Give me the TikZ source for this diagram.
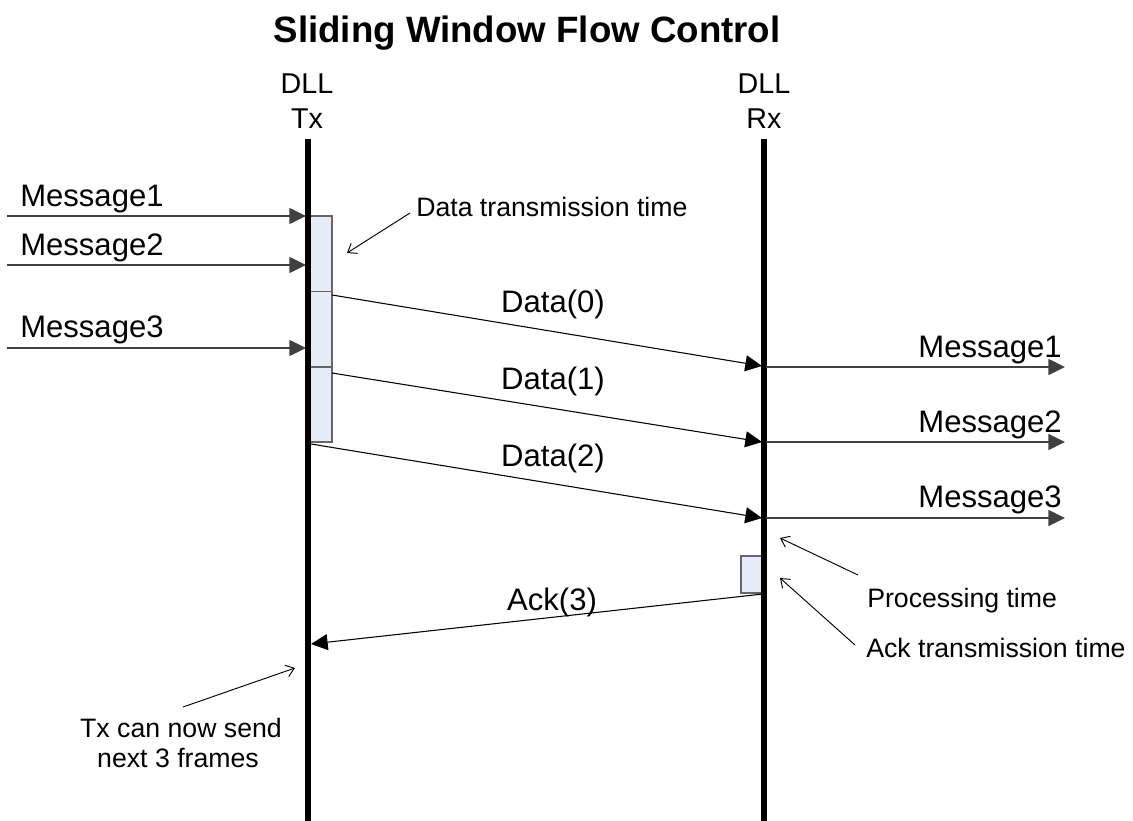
\documentclass[tikz,border=0pt]{standalone}
\usepackage{fontspec}
\setmainfont{Liberation Sans}
\usetikzlibrary{arrows.meta}
\definecolor{boxfill}{HTML}{E6ECF7}
\begin{document}
\begin{tikzpicture}[x=0.75pt,y=-0.75pt,
  ttl/.style={font=\fontsize{27.5}{32}\selectfont\bfseries, inner sep=0pt},
  hdr/.style={font=\fontsize{21.5}{26}\selectfont, inner sep=0pt},
  lbl/.style={font=\fontsize{23.3}{27}\selectfont, inner sep=0pt},
  ann/.style={font=\fontsize{20}{23}\selectfont, inner sep=0pt, align=center},
  life/.style={line width=4.2pt},
  msg/.style={draw=black!75, line width=1.1pt, -{Triangle[length=12.5pt,width=12pt]}},
  dat/.style={draw=black, line width=0.8pt, -{Triangle[length=12.5pt,width=12pt]}},
  note/.style={draw=black, line width=0.7pt, -{Straight Barb[length=6pt,width=9pt]}},
  procbox/.style={draw=black!60, fill=boxfill, line width=0.8pt}
]
\useasboundingbox (0,0) rectangle (1133,821);

% title
\node[ttl, anchor=base] (title) at (527,42) {Sliding Window Flow Control};

% headers
\node[hdr, anchor=base] (txh1) at (307,93) {DLL};
\node[hdr, anchor=base] (txh2) at (307,128) {Tx};
\node[hdr, anchor=base] (rxh1) at (764,93) {DLL};
\node[hdr, anchor=base] (rxh2) at (764,128) {Rx};

% lifelines
\coordinate (txtop) at (308,139);
\coordinate (txbot) at (308,821);
\coordinate (rxtop) at (764,139);
\coordinate (rxbot) at (764,821);

% boxes on Tx
\draw[procbox] (310,216) rectangle (332,291.5);
\draw[procbox] (310,291.5) rectangle (332,367);
\draw[procbox] (310,367) rectangle (332,442);
% box on Rx
\draw[procbox] (741,556) rectangle (763,593);

\draw[life] (txtop) -- (txbot);
\draw[life] (rxtop) -- (rxbot);

% incoming messages
\coordinate (m1s) at (7,216);  \coordinate (m1e) at (306,216);
\coordinate (m2s) at (7,265);  \coordinate (m2e) at (306,265);
\coordinate (m3s) at (7,348);  \coordinate (m3e) at (306,348);
\draw[msg] (m1s) -- (m1e);
\draw[msg] (m2s) -- (m2e);
\draw[msg] (m3s) -- (m3e);
\node[lbl, anchor=base west] (lm1) at (20,206) {Message1};
\node[lbl, anchor=base west] (lm2) at (20,255) {Message2};
\node[lbl, anchor=base west] (lm3) at (20,337) {Message3};

% data frames
\coordinate (d0s) at (332,295);  \coordinate (d0e) at (762,366);
\coordinate (d1s) at (332,373);  \coordinate (d1e) at (762,442);
\coordinate (d2s) at (311,444);  \coordinate (d2e) at (762,518);
\draw[dat] (d0s) -- (d0e);
\draw[dat] (d1s) -- (d1e);
\draw[dat] (d2s) -- (d2e);
\node[lbl, anchor=base] (ld0) at (553,312) {Data(0)};
\node[lbl, anchor=base] (ld1) at (553,389) {Data(1)};
\node[lbl, anchor=base] (ld2) at (553,466) {Data(2)};

% outgoing messages
\coordinate (o1s) at (766,367);  \coordinate (o1e) at (1065,367);
\coordinate (o2s) at (766,442);  \coordinate (o2e) at (1065,442);
\coordinate (o3s) at (766,518);  \coordinate (o3e) at (1065,518);
\draw[msg] (o1s) -- (o1e);
\draw[msg] (o2s) -- (o2e);
\draw[msg] (o3s) -- (o3e);
\node[lbl, anchor=base east] (lo1) at (1062,357) {Message1};
\node[lbl, anchor=base east] (lo2) at (1062,432) {Message2};
\node[lbl, anchor=base east] (lo3) at (1062,507) {Message3};

% ack
\coordinate (acks) at (763,594);  \coordinate (acke) at (311,644);
\draw[dat] (acks) -- (acke);
\node[lbl, anchor=base] (lack) at (552,610) {Ack(3)};

% annotations
\node[ann, anchor=base west] (adt) at (416,216) {Data transmission time};
\coordinate (adts) at (410,213); \coordinate (adte) at (347,253);
\draw[note] (adts) -- (adte);

\node[ann, anchor=base west] (apt) at (867,607) {Processing time};
\coordinate (apts) at (858,575); \coordinate (apte) at (780,538);
\draw[note] (apts) -- (apte);

\node[ann, anchor=base west] (aat) at (866,657) {Ack transmission time};
\coordinate (aats) at (855,645); \coordinate (aate) at (780,578);
\draw[note] (aats) -- (aate);

\node[ann, anchor=base] (atx1) at (181,737) {Tx can now send};
\node[ann, anchor=base] (atx2) at (178,767) {next 3 frames};
\coordinate (atxs) at (183,707); \coordinate (atxe) at (295,668);
\draw[note] (atxs) -- (atxe);
\end{tikzpicture}
\end{document}
